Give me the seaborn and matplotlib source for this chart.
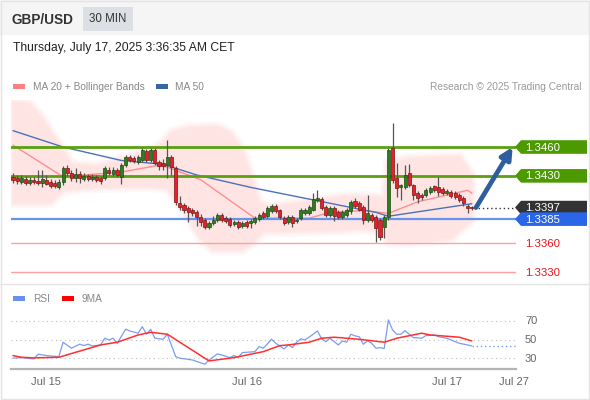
import numpy as np
import matplotlib
matplotlib.use("Agg")
import matplotlib.pyplot as plt
import seaborn as sns
from matplotlib.patches import Rectangle, Polygon

sns.set_theme(style="white")
plt.rcParams["font.family"] = ["Liberation Sans", "DejaVu Sans"]

# ---- 30-minute GBP/USD candles (bar index 0 = first bar shown) ----
opens = [
    1.3429, 1.3428, 1.3424, 1.3427, 1.3423, 1.3426, 1.3425, 1.3423, 1.3426, 1.3424,
    1.3423, 1.3418, 1.3424, 1.3438, 1.3433, 1.3428, 1.3432, 1.3427, 1.3430, 1.3427,
    1.3429, 1.3428, 1.3428, 1.3436, 1.3432, 1.3436, 1.3429, 1.3441, 1.3450, 1.3449,
    1.3444, 1.3446, 1.3456, 1.3446, 1.3457, 1.3444, 1.3443, 1.3441, 1.3450, 1.3438,
    1.3402, 1.3400, 1.3397, 1.3394, 1.3392, 1.3387, 1.3384, 1.3377, 1.3381, 1.3384,
    1.3389, 1.3386, 1.3385, 1.3380, 1.3382, 1.3378, 1.3382, 1.3381, 1.3382, 1.3385,
    1.3391, 1.3388, 1.3393, 1.3399, 1.3394, 1.3386, 1.3382, 1.3387, 1.3383, 1.3386,
    1.3391, 1.3391, 1.3395, 1.3405, 1.3406, 1.3398, 1.3389, 1.3397, 1.3392, 1.3387,
    1.3389, 1.3393, 1.3404, 1.3402, 1.3398, 1.3384, 1.3389, 1.3387, 1.3384, 1.3377,
    1.3387, 1.3459, 1.3428, 1.3418, 1.3418, 1.3433, 1.3420, 1.3412, 1.3410, 1.3410,
    1.3413, 1.3419, 1.3418, 1.3416, 1.3412, 1.3413, 1.3412, 1.3410, 1.3407, 1.3399,
    1.3398,
]
highs = [
    1.3433, 1.3431, 1.3431, 1.3430, 1.3429, 1.3429, 1.3436, 1.3436, 1.3431, 1.3427,
    1.3426, 1.3427, 1.3440, 1.3441, 1.3436, 1.3438, 1.3435, 1.3433, 1.3432, 1.3432,
    1.3431, 1.3430, 1.3440, 1.3439, 1.3439, 1.3438, 1.3443, 1.3452, 1.3452, 1.3451,
    1.3452, 1.3459, 1.3458, 1.3459, 1.3459, 1.3446, 1.3448, 1.3467, 1.3452, 1.3440,
    1.3409, 1.3402, 1.3399, 1.3397, 1.3394, 1.3390, 1.3386, 1.3383, 1.3388, 1.3391,
    1.3391, 1.3388, 1.3387, 1.3384, 1.3384, 1.3383, 1.3384, 1.3385, 1.3388, 1.3391,
    1.3393, 1.3399, 1.3401, 1.3401, 1.3396, 1.3388, 1.3389, 1.3389, 1.3386, 1.3397,
    1.3397, 1.3400, 1.3412, 1.3415, 1.3408, 1.3400, 1.3399, 1.3399, 1.3394, 1.3394,
    1.3397, 1.3405, 1.3407, 1.3404, 1.3400, 1.3410, 1.3391, 1.3389, 1.3386, 1.3389,
    1.3459, 1.3485, 1.3443, 1.3422, 1.3441, 1.3442, 1.3422, 1.3414, 1.3412, 1.3417,
    1.3419, 1.3421, 1.3429, 1.3418, 1.3416, 1.3415, 1.3414, 1.3412, 1.3409, 1.3401,
    1.3399,
]
lows = [
    1.3423, 1.3422, 1.3422, 1.3421, 1.3421, 1.3422, 1.3421, 1.3418, 1.3420, 1.3417,
    1.3417, 1.3416, 1.3420, 1.3430, 1.3425, 1.3424, 1.3423, 1.3425, 1.3425, 1.3425,
    1.3424, 1.3422, 1.3426, 1.3431, 1.3430, 1.3429, 1.3422, 1.3439, 1.3444, 1.3443,
    1.3442, 1.3444, 1.3444, 1.3444, 1.3441, 1.3436, 1.3436, 1.3428, 1.3431, 1.3400,
    1.3395, 1.3391, 1.3382, 1.3388, 1.3378, 1.3378, 1.3375, 1.3375, 1.3379, 1.3382,
    1.3382, 1.3381, 1.3377, 1.3378, 1.3375, 1.3376, 1.3376, 1.3376, 1.3380, 1.3383,
    1.3385, 1.3386, 1.3391, 1.3391, 1.3385, 1.3379, 1.3380, 1.3377, 1.3381, 1.3384,
    1.3389, 1.3389, 1.3393, 1.3403, 1.3395, 1.3387, 1.3387, 1.3383, 1.3385, 1.3385,
    1.3387, 1.3390, 1.3397, 1.3393, 1.3380, 1.3382, 1.3382, 1.3361, 1.3363, 1.3365,
    1.3384, 1.3423, 1.3408, 1.3405, 1.3416, 1.3418, 1.3405, 1.3402, 1.3405, 1.3408,
    1.3411, 1.3413, 1.3409, 1.3410, 1.3410, 1.3407, 1.3406, 1.3403, 1.3399, 1.3391,
    1.3395,
]
closes = [
    1.3426, 1.3425, 1.3428, 1.3423, 1.3426, 1.3424, 1.3423, 1.3427, 1.3422, 1.3419,
    1.3419, 1.3424, 1.3438, 1.3433, 1.3428, 1.3432, 1.3428, 1.3430, 1.3427, 1.3429,
    1.3426, 1.3425, 1.3438, 1.3433, 1.3436, 1.3431, 1.3441, 1.3450, 1.3446, 1.3445,
    1.3450, 1.3457, 1.3446, 1.3457, 1.3443, 1.3440, 1.3440, 1.3450, 1.3439, 1.3403,
    1.3398, 1.3394, 1.3392, 1.3391, 1.3387, 1.3382, 1.3377, 1.3381, 1.3384, 1.3389,
    1.3384, 1.3383, 1.3379, 1.3382, 1.3377, 1.3381, 1.3378, 1.3383, 1.3386, 1.3389,
    1.3387, 1.3397, 1.3399, 1.3393, 1.3387, 1.3381, 1.3387, 1.3381, 1.3384, 1.3394,
    1.3395, 1.3398, 1.3406, 1.3407, 1.3397, 1.3389, 1.3397, 1.3388, 1.3387, 1.3392,
    1.3394, 1.3403, 1.3399, 1.3395, 1.3384, 1.3391, 1.3384, 1.3376, 1.3366, 1.3387,
    1.3457, 1.3426, 1.3417, 1.3420, 1.3431, 1.3420, 1.3410, 1.3407, 1.3408, 1.3415,
    1.3417, 1.3415, 1.3413, 1.3412, 1.3414, 1.3409, 1.3408, 1.3405, 1.3402, 1.3397,
    1.3397,
]

# ---- moving averages and Bollinger envelope (bar index, price) ----
ma20_idx = [0, 12, 26, 35, 37, 45, 58, 71, 76, 84, 90, 97, 109, 110]
ma20_val = [1.3462, 1.3429, 1.3434, 1.3441, 1.3439, 1.3426, 1.3386, 1.3386,
            1.3392, 1.3394, 1.3391, 1.3403, 1.3415, 1.3412]
ma50_idx = [0, 12, 26, 36, 44, 57, 80, 87, 90, 110]
ma50_val = [1.3477, 1.3460, 1.3446, 1.3442, 1.3431, 1.3418, 1.3398, 1.3392,
            1.3388, 1.3401]
bb_up_idx = [0, 4, 7, 9, 12, 14, 20, 27, 33, 36, 38, 42, 49, 52, 55, 57, 59,
             62, 72, 80, 89, 90, 95, 107, 110]
bb_up_val = [1.3507, 1.3505, 1.3490, 1.3476, 1.3457, 1.3442, 1.3440, 1.3449,
             1.3457, 1.3464, 1.3475, 1.3480, 1.3481, 1.3475, 1.3457, 1.3431,
             1.3402, 1.3398, 1.3404, 1.3409, 1.3408, 1.3444, 1.3448, 1.3450,
             1.3431]
bb_lo_idx = [0, 9, 12, 20, 33, 37, 41, 45, 48, 55, 58, 60, 75, 85, 89, 90, 95,
             105, 110]
bb_lo_val = [1.3402, 1.3402, 1.3415, 1.3418, 1.3419, 1.3417, 1.3394, 1.3365,
             1.3353, 1.3353, 1.3363, 1.3372, 1.3373, 1.3375, 1.3369, 1.3362,
             1.3361, 1.3365, 1.3384]

# ---- RSI and its 9-period average ----
rsi_idx = [0, 2, 5, 6, 8, 11, 12, 14, 16, 17, 18, 19, 21, 22, 23, 24, 25, 27,
           28, 30, 31, 32, 33, 34, 36, 37, 39, 40, 43, 46, 47, 49, 50, 52, 53,
           54, 55, 58, 59, 60, 62, 63, 65, 66, 67, 68, 69, 70, 72, 73, 74, 75,
           76, 77, 78, 79, 80, 81, 82, 83, 84, 85, 86, 87, 88, 89, 90, 91, 92,
           93, 94, 95, 96, 98, 99, 101, 102, 104, 105, 107, 109, 110]
rsi_val = [30.1, 30.7, 29.3, 34.4, 32.9, 31.8, 47.2, 40.8, 45.1, 43.6, 45.1,
           43.2, 44.3, 51.5, 49.7, 51.5, 46.1, 61.1, 59.3, 56.9, 63.9, 55.8,
           61.1, 51.5, 50.4, 55.8, 31.8, 30.1, 28.2, 23.6, 28.2, 34.7, 33.6,
           30.7, 32.9, 31.1, 36.1, 37.1, 42.5, 40.8, 50.4, 46.1, 40.0, 44.3,
           41.6, 47.2, 50.8, 49.7, 55.8, 59.3, 50.8, 47.9, 51.5, 47.9, 44.3,
           48.6, 47.2, 55.8, 54.0, 53.2, 45.1, 48.6, 46.1, 40.8, 41.4, 40.5,
           71.1, 60.4, 55.8, 55.8, 59.6, 55.8, 52.1, 51.5, 54.3, 55.0, 53.2,
           51.5, 49.7, 46.1, 44.3, 43.2]
ma9_idx = [0, 2, 5, 11, 21, 25, 30, 33, 37, 47, 53, 60, 64, 66, 71, 74, 77,
           83, 89, 92, 98, 100, 107, 110]
ma9_val = [32.9, 31.1, 30.4, 31.1, 44.3, 47.2, 55.0, 57.9, 55.8, 27.2, 30.7,
           37.1, 43.6, 44.3, 47.2, 51.5, 52.6, 50.4, 47.2, 51.5, 56.9, 55.0,
           52.6, 48.6]
rsi_levels = [70, 50, 30]

# ---- key levels ----
resistances = [1.3460, 1.3430]
pivot = 1.3385
supports = [1.3360, 1.3330]
target = 1.3460

# ---- time axis ----
tick_pos = [8, 56, 104, 120]
tick_labels = ["Jul 15", "Jul 16", "Jul 17", "Jul 27"]

W, H = 590, 400
XL = (-0.48, 120.6)
GREEN, BLUE, DARK, RED = "#4c9a00", "#2966e8", "#333333", "#e8141c"

fig = plt.figure(figsize=(W / 100, H / 100), dpi=100)
fig.patch.set_facecolor("white")

# background layer: header, legends, frame
bg = fig.add_axes([0, 0, 1, 1], zorder=0)
bg.set_xlim(0, W)
bg.set_ylim(H, 0)
bg.axis("off")
bg.add_patch(Rectangle((0, 0), W, 35, color="#f5f5f5", lw=0))
bg.add_patch(Rectangle((83, 7), 50, 24, color="#dcdfe4", lw=0))
bg.text(12, 19.5, "GBP/USD", fontsize=9.8, fontweight="bold", color="#333333", va="center")
bg.text(108, 19.5, "30 MIN", fontsize=8.3, color="#333333", va="center", ha="center")
bg.text(13, 48, "Thursday, July 17, 2025 3:36:35 AM CET", fontsize=8.7, color="#222222",
        va="center")
bg.add_patch(Rectangle((13, 84), 12, 5, color="#ff8080", lw=0))
bg.text(33, 86.5, "MA 20 + Bollinger Bands", fontsize=7.3, color="#888888", va="center")
bg.add_patch(Rectangle((156, 84), 12, 5, color="#3a64a8", lw=0))
bg.text(175, 86.5, "MA 50", fontsize=7.3, color="#888888", va="center")
bg.text(581, 86.5, "Research \u00a9 2025 Trading Central", fontsize=7.3, color="#999999",
        va="center", ha="right")
bg.add_patch(Rectangle((13, 296), 12, 5, color="#6b8ff0", lw=0))
bg.text(33, 298.5, "RSI", fontsize=7.3, color="#888888", va="center")
bg.add_patch(Rectangle((62, 296), 12, 5, color="#ff0000", lw=0))
bg.text(81, 298.5, "9MA", fontsize=7.3, color="#888888", va="center")
bg.plot([0, W], [284, 284], color="#e4e4e4", lw=1)
bg.add_patch(Rectangle((1, 0.5), W - 2.5, H - 2, fill=False, ec="#e4e4e4", lw=1))

# ---- price panel ----
ax = fig.add_axes([11 / W, 1 - 282 / H, 505 / W, 182 / H], zorder=1)
ax.patch.set_alpha(0)
ax.set_xlim(*XL)
ax.set_ylim(1.33196, 1.35089)
ax.axis("off")

band_x = np.r_[bb_up_idx, bb_lo_idx[::-1]]
band_y = np.r_[bb_up_val, bb_lo_val[::-1]]
for lw, a in [(8, 0.25), (5, 0.35), (2.5, 0.6)]:
    ax.fill(band_x, band_y, facecolor="none", edgecolor="#ffe4e4", lw=lw, alpha=a,
            joinstyle="round", zorder=1)
ax.fill(band_x, band_y, facecolor="#ffe4e4", edgecolor="none", zorder=1)

sns.lineplot(x=ma20_idx, y=ma20_val, ax=ax, color="#ff8f8f", lw=1, zorder=2)
sns.lineplot(x=ma50_idx, y=ma50_val, ax=ax, color="#4a72b8", lw=1, zorder=2)

for lv in resistances:
    ax.axhline(lv, color="#5aa010", lw=2, zorder=3)
ax.axhline(pivot, color="#6494ee", lw=1.6, zorder=3)
for lv in supports:
    ax.axhline(lv, color="#ffa0a0", lw=1, zorder=3)

xs = np.arange(len(closes))
o, h, l, c = map(np.asarray, (opens, highs, lows, closes))
up = c >= o
ax.vlines(xs, l, h, color="#555555", lw=0.9, zorder=4)
body = np.maximum(np.abs(c - o), 0.00004)
ax.bar(xs[up], body[up], bottom=np.minimum(o, c)[up], width=0.74,
       color="#2f7d1f", edgecolor="#1d4a14", lw=0.5, zorder=5)
ax.bar(xs[~up], body[~up], bottom=np.minimum(o, c)[~up], width=0.74,
       color="#e8202a", edgecolor="#7a1515", lw=0.5, zorder=5)

last = closes[-1]
ax.hlines(last, len(closes) - 0.4, XL[1], colors="#333333", linestyles=(0, (1, 2)),
          lw=1, zorder=3)
ax.annotate("", xy=(119.8, target), xytext=(111.0, last),
            arrowprops=dict(arrowstyle="-|>", color="#2f5d9e", lw=3.4,
                            mutation_scale=17, shrinkA=0, shrinkB=0),
            annotation_clip=False, zorder=6)

# ---- RSI panel ----
rax = fig.add_axes([11 / W, 1 - 369 / H, 505 / W, 69 / H], zorder=1)
rax.patch.set_alpha(0)
rax.set_xlim(*XL)
rax.set_ylim(18.5, 92.5)
rax.hlines(rsi_levels, XL[0], XL[1], colors="#bbbbbb", linestyles=(0, (1, 3)), lw=0.8)
sns.lineplot(x=rsi_idx, y=rsi_val, ax=rax, color="#7b9cf0", lw=0.9)
sns.lineplot(x=ma9_idx, y=ma9_val, ax=rax, color="#ff3030", lw=1.1)
rax.hlines(rsi_val[-1], rsi_idx[-1], XL[1], colors="#7b9cf0", linestyles=(0, (1, 2)), lw=1)
for s in ["top", "left", "right"]:
    rax.spines[s].set_visible(False)
rax.spines["bottom"].set_color("#b4b4b4")
rax.spines["bottom"].set_linewidth(1.6)
rax.set_yticks([])
rax.set_xticks(tick_pos)
rax.set_xticklabels(tick_labels)
rax.set_xticks([XL[0] + 0.1, XL[1] - 0.1], minor=True)
rax.tick_params(axis="x", which="major", length=0, pad=6, labelsize=8, labelcolor="#666666")
rax.tick_params(axis="x", which="minor", direction="in", length=4, width=1.5, color="#b4b4b4")
rax.set_xlabel("")
rax.set_ylabel("")
ax.set_xlabel("")
ax.set_ylabel("")

# ---- right-hand labels ----
fg = fig.add_axes([0, 0, 1, 1], zorder=5)
fg.set_xlim(0, W)
fg.set_ylim(H, 0)
fg.axis("off")
fg.patch.set_alpha(0)


def ypix(axis, v):
    return H - axis.transData.transform((0, v))[1]


tags = [(resistances[0], GREEN), (resistances[1], GREEN), (last, DARK), (pivot, BLUE)]
for val, col in tags:
    y = ypix(ax, val)
    fg.add_patch(Polygon([(515, y), (521, y - 6.8), (587, y - 6.8), (587, y + 6.8),
                          (521, y + 6.8)], closed=True, color=col, lw=0))
    fg.text(525, y + 0.5, f"{val:.4f}", color="white", fontsize=8.2, va="center")
for val in supports:
    fg.text(525, ypix(ax, val) + 0.5, f"{val:.4f}", color=RED, fontsize=8.2, va="center")
for val in rsi_levels:
    fg.text(525, ypix(rax, val) + 0.5, f"{val}", color="#666666", fontsize=8, va="center")

fig.savefig("out.png", dpi=100)
